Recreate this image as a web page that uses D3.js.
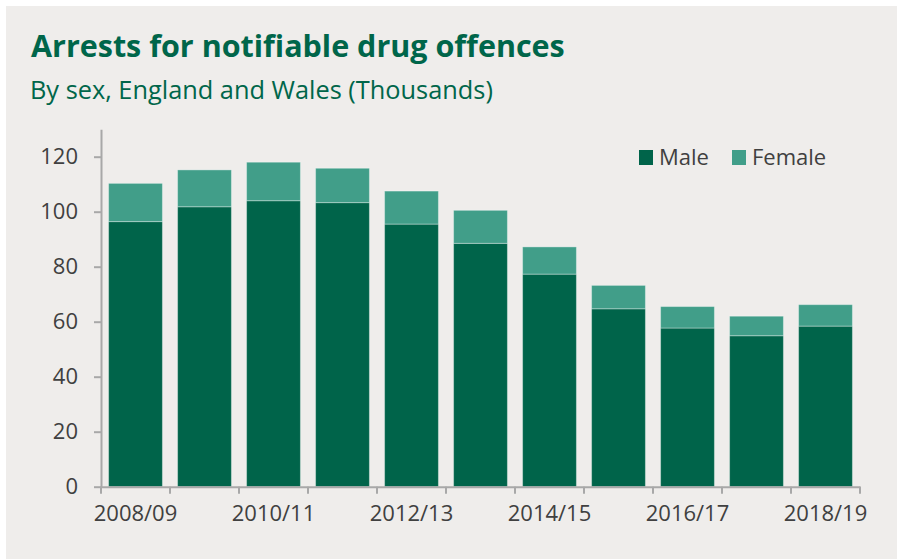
<!DOCTYPE html>
<html>
<head>
<meta charset="utf-8">
<script src="https://cdn.jsdelivr.net/npm/d3@7"></script>
<style>
  html, body { margin: 0; padding: 0; background: #ffffff; }
  svg { display: block; }
</style>
</head>
<body>
<svg id="chart" width="897" height="559"></svg>
<script>
const categories = ["2008/09","2009/10","2010/11","2011/12","2012/13","2013/14","2014/15","2015/16","2016/17","2017/18","2018/19"];
const male   = [96.4, 101.8, 104.0, 103.3, 95.5, 88.5, 77.3, 64.7, 57.7, 54.9, 58.4];
const female = [13.9, 13.4, 14.0, 12.5, 12.0, 12.0, 9.9, 8.5, 7.8, 7.1, 7.8];
const seriesNames = ["Male", "Female"];
const yTicks = [0, 20, 40, 60, 80, 100, 120];

const colors = { Male: "#00644a", Female: "#419e89" };
const textGreen = "#00664a";
const tickColor = "#404040";
const axisColor = "#a8a8a8";

const svg = d3.select("#chart");
svg.append("rect").attr("x", 6).attr("y", 6).attr("width", 891).attr("height", 553).attr("fill", "#efedeb");

function fitText(sel, targetWidth, baseSize) {
  sel.attr("font-size", baseSize);
  const w = sel.node().getComputedTextLength();
  sel.attr("font-size", baseSize * targetWidth / w);
}

const title = svg.append("text").attr("x", 31).attr("y", 57)
  .attr("font-family", "'Open Sans', sans-serif").attr("font-weight", 700)
  .attr("fill", textGreen).text("Arrests for notifiable drug offences");
fitText(title, 534, 28);

const subtitle = svg.append("text").attr("x", 30).attr("y", 99)
  .attr("font-family", "'Open Sans', sans-serif").attr("font-weight", 400)
  .attr("fill", textGreen).text("By sex, England and Wales (Thousands)");
fitText(subtitle, 463, 23);

const x = d3.scaleBand().domain(categories).range([101, 860]).paddingInner(0.22).paddingOuter(0.11);
const y = d3.scaleLinear().domain([0, 130]).range([486.7, 129.2]);

const data = categories.map((c, i) => ({ cat: c, Male: male[i], Female: female[i] }));
const stacked = d3.stack().keys(seriesNames)(data);

svg.append("g").selectAll("g").data(stacked).join("g")
  .attr("fill", d => colors[d.key])
  .selectAll("rect").data(d => d).join("rect")
  .attr("x", d => x(d.data.cat))
  .attr("width", x.bandwidth())
  .attr("y", d => y(d[1]))
  .attr("height", d => y(d[0]) - y(d[1]))
  .attr("stroke", "rgba(255,255,255,0.35)")
  .attr("stroke-width", 1);

// Y axis
const yAxis = svg.append("g").attr("transform", "translate(101,0)")
  .call(d3.axisLeft(y).tickValues(yTicks).tickSize(7).tickPadding(16).tickSizeOuter(0));
yAxis.select(".domain").attr("stroke", axisColor).attr("stroke-width", 2);
yAxis.selectAll(".tick line").attr("stroke", axisColor).attr("stroke-width", 2);
yAxis.selectAll(".tick text").attr("fill", tickColor).attr("font-size", 22)
  .attr("font-family", "'Open Sans', sans-serif");

// X axis
const xAxis = svg.append("g").attr("transform", `translate(0,${y(0)})`)
  .call(d3.axisBottom(x).tickValues(categories.filter((c, i) => i % 2 === 0)).tickSize(0).tickPadding(34).tickSizeOuter(0));
xAxis.select(".domain").attr("stroke", axisColor).attr("stroke-width", 2);
xAxis.selectAll(".tick text").attr("fill", tickColor).attr("font-size", 22)
  .attr("font-family", "'Open Sans', sans-serif").attr("dy", 0);
const [r0] = x.range();
xAxis.selectAll(".bound").data(d3.range(categories.length + 1)).join("line")
  .attr("class", "bound")
  .attr("x1", k => r0 + k * x.step()).attr("x2", k => r0 + k * x.step())
  .attr("y1", 0).attr("y2", 7)
  .attr("stroke", axisColor).attr("stroke-width", 2);

// Legend
const legendPos = { Male: 639, Female: 732 };
const lg = svg.append("g");
seriesNames.forEach(name => {
  lg.append("rect").attr("x", legendPos[name]).attr("y", 150).attr("width", 14).attr("height", 15)
    .attr("fill", colors[name]);
  lg.append("text").attr("x", legendPos[name] + 20).attr("y", 165)
    .attr("font-family", "'Open Sans', sans-serif").attr("font-size", 22)
    .attr("fill", tickColor).text(name);
});
</script>
</body>
</html>
